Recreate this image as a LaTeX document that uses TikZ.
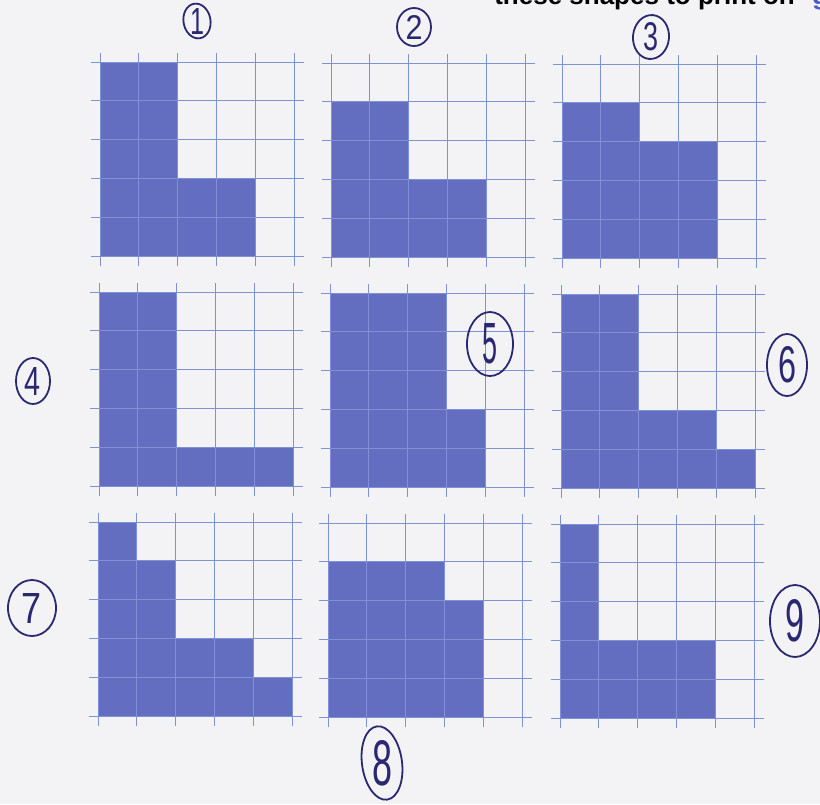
\documentclass[tikz,border=0pt]{standalone}
\usepackage{fontspec}
\usepackage{graphicx}
\setsansfont{Liberation Sans}
\definecolor{paper}{RGB}{243,243,246}
\definecolor{shapeblue}{RGB}{100,110,192}
\definecolor{gridblue}{RGB}{128,146,214}
\definecolor{ink}{RGB}{42,40,112}
\definecolor{linkblue}{RGB}{70,90,200}
\tikzset{
  shapefill/.style={fill=shapeblue},
  gridline/.style={draw=gridblue,line width=0.9pt},
  inkring/.style={draw=ink,line width=1.8pt},
  digit/.style={text=ink,inner sep=0pt},
  headtext/.style={inner sep=0pt,font=\sffamily\bfseries\fontsize{26}{26}\selectfont},
}
\def\cs{38.9}
\newcommand{\lgrid}[3]{%
  \begin{scope}[shift={(#1,#2)}]
    \foreach \h [count=\i from 0] in {#3} {
      \ifnum\h>0
        \fill[shapefill] ({\i*\cs},{5*\cs}) rectangle ({(\i+1)*\cs+0.5},{(5-\h)*\cs});
      \fi
    }
    \foreach \k in {0,...,5} {
      \draw[gridline] ({\k*\cs},-9) -- ({\k*\cs},{5*\cs+9});
      \draw[gridline] (-9,{\k*\cs}) -- ({5*\cs+9},{\k*\cs});
    }
  \end{scope}}
\newcommand{\ringnum}[9]{% name, x, y, rx, ry, rot, w, h, digit
  \draw[inkring,rotate around={#6:(#2,#3)}] (#2,#3) ellipse [x radius=#4pt, y radius=#5pt];
  \node[digit] (#1) at (#2,#3) {\resizebox{#7}{#8}{\sffamily #9}};}
\begin{document}
\begin{tikzpicture}[x=1pt,y=-1pt]
  \useasboundingbox (0,0) rectangle (820,804);
  \clip (0,0) rectangle (820,804);
  \fill[paper] (0,0) rectangle (820,804);
  % partially cut heading (only its lower edge shows)
  \node[headtext,anchor=base east] (head) at (795,4) {these shapes to print on};
  \node[headtext,anchor=base west,text=linkblue] (headg) at (812,4) {g};
  % grids
  \lgrid{100}{62}{5,5,2,2,0}
  \lgrid{331}{63}{4,4,2,2,0}
  \lgrid{562}{64}{4,4,3,3,0}
  \lgrid{99}{292}{5,5,1,1,1}
  \lgrid{330}{293}{5,5,5,2,0}
  \lgrid{561}{294}{5,5,2,2,1}
  \lgrid{98}{522}{5,4,2,2,1}
  \lgrid{328}{523}{4,4,4,3,0}
  \lgrid{560}{524}{5,2,2,2,0}
  % circled numbers
  \ringnum{n1}{197}{21}{13.5}{17.5}{10}{14pt}{26pt}{1}
  \ringnum{n2}{414}{27}{17}{19}{0}{17pt}{24pt}{2}
  \ringnum{n3}{651}{37}{18}{22}{-5}{15pt}{28pt}{3}
  \ringnum{n4}{33}{381}{17}{23}{0}{16pt}{28pt}{4}
  \ringnum{n5}{490}{344}{23}{32}{0}{15pt}{40pt}{5}
  \ringnum{n6}{787}{365}{20}{31}{0}{18pt}{36pt}{6}
  \ringnum{n7}{32}{608}{24}{28}{0}{20pt}{30pt}{7}
  \ringnum{n8}{382}{763}{20}{37}{8}{20pt}{45pt}{8}
  \ringnum{n9}{795}{621}{25}{36}{0}{19pt}{42pt}{9}
\end{tikzpicture}
\end{document}
